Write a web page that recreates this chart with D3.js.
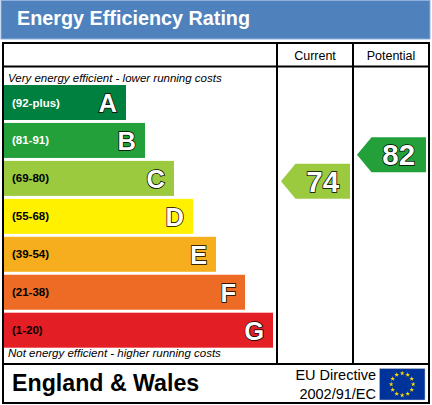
<!DOCTYPE html>
<html><head><meta charset="utf-8">
<script src="https://cdn.jsdelivr.net/npm/d3@7/dist/d3.min.js"></script>
<style>body{margin:0;background:#fff}svg{display:block}text{font-family:Arial,"Liberation Sans",sans-serif}</style>
</head><body>
<script>
const bands = ["A","B","C","D","E","F","G"];
const bandLabels = ["(92-plus)","(81-91)","(69-80)","(55-68)","(39-54)","(21-38)","(1-20)"];
const bandMin = [92,81,69,55,39,21,1];
const bandMax = [100,91,80,68,54,38,20];
const bandColors = ["#00803e","#23a03a","#9bca3e","#fff100","#f6ae1e","#ee6b25","#e31e25"];
const labelColors = ["#fff","#fff","#000","#000","#000","#000","#000"];
const ratings = [{col:"Current", value:74},{col:"Potential", value:82}];
const columns = ["Current","Potential"];

(function(){
const W = 432, H = 405;
const svg = d3.select("body").append("svg").attr("width",W).attr("height",H);

// Header
svg.append("rect").attr("x",1).attr("y",0.5).attr("width",429).attr("height",38.5)
  .attr("fill","#4f81bd").attr("stroke","#8fb0dc").attr("stroke-width",1);
svg.append("text").attr("x",17).attr("y",25).attr("fill","#fff")
  .attr("font-size",19.8).attr("font-weight","bold").text("Energy Efficiency Rating");

// Table frame
const fl = 3, ft = 43, fr_ = 429, fb = 403;
const colX = d3.scaleBand().domain(columns).range([277,429]);
const g = svg.append("g").attr("stroke","#000").attr("stroke-width",2).attr("fill","none");
g.append("rect").attr("x",fl).attr("y",ft).attr("width",fr_-fl).attr("height",fb-ft);
g.append("line").attr("x1",fl).attr("x2",fr_).attr("y1",66.5).attr("y2",66.5);
g.append("line").attr("x1",fl).attr("x2",fr_).attr("y1",364).attr("y2",364);
columns.forEach(c=>{
  g.append("line").attr("x1",colX(c)).attr("x2",colX(c)).attr("y1",ft).attr("y2",364);
});
svg.selectAll("text.col").data(columns).join("text").attr("class","col")
  .attr("x",c=>colX(c)+colX.bandwidth()/2).attr("y",60).attr("text-anchor","middle")
  .attr("font-size",12.5).text(c=>c);

// Bands
const y = d3.scaleBand().domain(bands).range([85,347.7]).paddingInner(0.0777).paddingOuter(0);
const barRight = d3.scaleOrdinal().domain(bands).range([126,145,174,193,216,245,273]);
const x0 = 4;
const bandData = bands.map((b,i)=>({b,i,label:bandLabels[i],min:bandMin[i],max:bandMax[i],color:bandColors[i],lc:labelColors[i]}));

svg.selectAll("rect.bar").data(bandData).join("rect").attr("class","bar")
  .attr("x",x0).attr("y",d=>y(d.b)).attr("width",d=>barRight(d.b)-x0).attr("height",y.bandwidth())
  .attr("fill",d=>d.color);
svg.selectAll("text.rng").data(bandData).join("text").attr("class","rng")
  .attr("x",12).attr("y",d=>y(d.b)+y.bandwidth()/2+4).attr("font-size",11.5).attr("font-weight","bold")
  .attr("fill",d=>d.lc).text(d=>d.label);
svg.selectAll("text.let").data(bandData).join("text").attr("class","let")
  .attr("x",d=>barRight(d.b)-9).attr("y",d=>y(d.b)+y.bandwidth()/2+9.5).attr("text-anchor","end")
  .attr("font-size",25.5).attr("font-weight","bold").attr("fill","#fff")
  .attr("stroke","#000").attr("stroke-width",1.5).attr("paint-order","stroke").text(d=>d.b);

svg.append("text").attr("x",8).attr("y",82).attr("font-size",11.5).attr("font-style","italic")
  .text("Very energy efficient - lower running costs");
svg.append("text").attr("x",8).attr("y",357).attr("font-size",11.5).attr("font-style","italic")
  .text("Not energy efficient - higher running costs");

// Arrows
ratings.forEach(r=>{
  const bi = bandMin.findIndex((m,i)=> r.value>=m && r.value<=bandMax[i]);
  const b = bands[bi];
  const pos = d3.scaleLinear().domain([bandMax[bi]+1, bandMin[bi]]).range([y(b), y(b)+y.bandwidth()]);
  const cy = pos(r.value);
  const h = y.bandwidth();
  const xl = colX(r.col)+4, xr = colX(r.col)+colX.bandwidth()-3;
  const tip = h/2 - 3;
  const path = d3.path();
  path.moveTo(xl, cy);
  path.lineTo(xl+tip, cy-h/2);
  path.lineTo(xr, cy-h/2);
  path.lineTo(xr, cy+h/2);
  path.lineTo(xl+tip, cy+h/2);
  path.closePath();
  svg.append("path").attr("d",path.toString()).attr("fill",bandColors[bi]);
  svg.append("text").attr("x",(xl+tip+xr)/2).attr("y",cy+10.5).attr("text-anchor","middle")
    .attr("font-size",29.5).attr("font-weight","bold").attr("fill","#fff")
    .attr("stroke","#000").attr("stroke-width",1.5).attr("paint-order","stroke").text(r.value);
});

// Footer
svg.append("text").attr("x",12).attr("y",391).attr("font-size",23.2).attr("font-weight","bold").text("England & Wales");
svg.append("text").attr("x",376).attr("y",380).attr("text-anchor","end").attr("font-size",14.5).text("EU Directive");
svg.append("text").attr("x",376).attr("y",399).attr("text-anchor","end").attr("font-size",14.5).text("2002/91/EC");
svg.append("rect").attr("x",379.5).attr("y",368.5).attr("width",45.5).attr("height",31.5).attr("fill","#003399")
  .attr("stroke","#c8c8c8").attr("stroke-width",0.5);
const fcx = 402.2, fcy = 384.2, fr = 11;
const star = d3.symbol(d3.symbolStar).size(7);
d3.range(12).forEach(k=>{
  const a = k*Math.PI/6;
  svg.append("path").attr("d",star()).attr("fill","#ffdd00")
    .attr("transform",`translate(${fcx+fr*Math.sin(a)},${fcy-fr*Math.cos(a)})`);
});
})();
</script>
</body></html>
